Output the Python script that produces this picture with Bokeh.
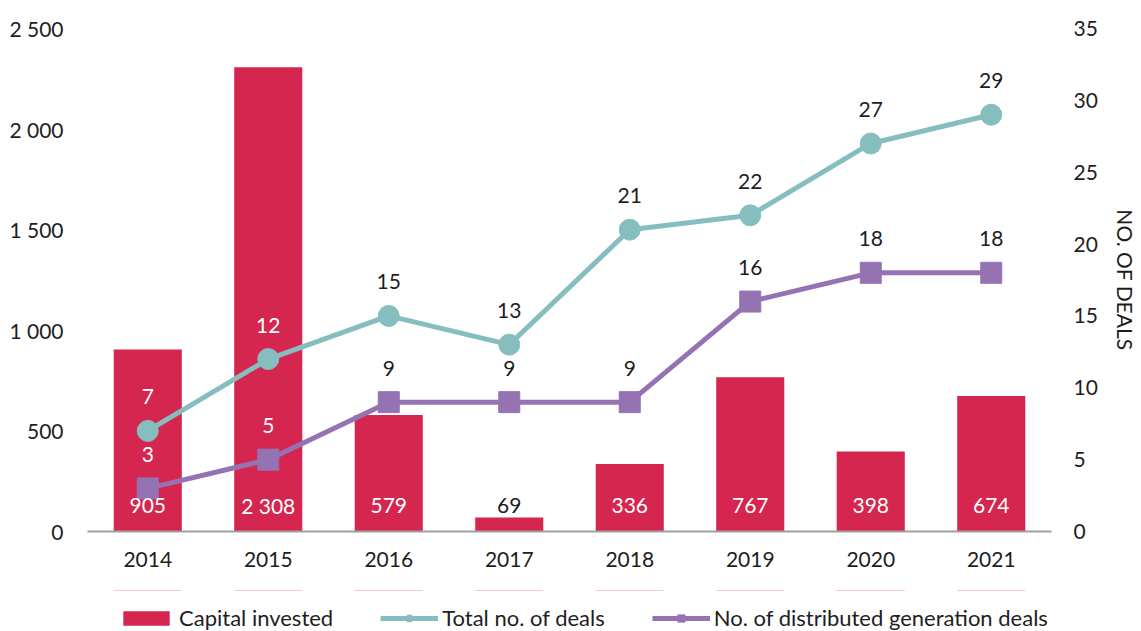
from bokeh.plotting import figure
from bokeh.layouts import column
from bokeh.models import (ColumnDataSource, FactorRange, Range1d, LinearAxis, FixedTicker,
                          LabelSet, Legend, LegendItem)
from bokeh.core.properties import value
from bokeh.embed import file_html
from bokeh.resources import INLINE

# ---- data ----
years = ["2014", "2015", "2016", "2017", "2018", "2019", "2020", "2021"]
capital_invested = [905, 2308, 579, 69, 336, 767, 398, 674]
total_deals = [7, 12, 15, 13, 21, 22, 27, 29]
dg_deals = [3, 5, 9, 9, 9, 16, 18, 18]

left_ticks = [0, 500, 1000, 1500, 2000, 2500]
left_tick_labels = ["0", "500", "1 000", "1 500", "2 000", "2 500"]
right_ticks = [0, 5, 10, 15, 20, 25, 30, 35]
right_tick_labels = ["0", "5", "10", "15", "20", "25", "30", "35"]
right_axis_title = "NO. OF DEALS"
legend_labels = ["Capital invested", "Total no. of deals", "No. of distributed generation deals"]

# ---- styles ----
FONT = "Lato"
FS = "21px"
LEG_FS = "22px"
TXT = "#1e1e1e"
BAR = "#D4264E"
TEAL = "#86BEBF"
PURPLE = "#9573B3"
LEFT_MAX = 2500
RIGHT_MAX = 35
W = 1141


def fmt(v):
    return f"{v:,}".replace(",", " ")


scale = LEFT_MAX / RIGHT_MAX
src = ColumnDataSource(dict(
    years=years,
    capital=capital_invested,
    capital_lbl=[fmt(v) for v in capital_invested],
    capital_col=["white" if v > 200 else TXT for v in capital_invested],
    zero=[0] * len(years),
    total=total_deals,
    total_lbl=[str(v) for v in total_deals],
    total_col=["white" if t * scale < c else TXT for t, c in zip(total_deals, capital_invested)],
    dg=dg_deals,
    dg_lbl=[str(v) for v in dg_deals],
    dg_col=["white" if t * scale < c else TXT for t, c in zip(dg_deals, capital_invested)],
))

p = figure(width=W, height=590, x_range=FactorRange(factors=years),
           y_range=Range1d(0, LEFT_MAX), output_backend="svg", toolbar_location=None,
           min_border_left=87, min_border_right=90, min_border_top=28, min_border_bottom=59)
p.extra_y_ranges = {"deals": Range1d(0, RIGHT_MAX)}
p.outline_line_color = None
p.xgrid.visible = False
p.ygrid.visible = False


def add_series(fig, source, y_name=None, bar_top="capital"):
    kw = {} if y_name is None else {"y_range_name": y_name}
    b = fig.vbar(x="years", top=bar_top, width=0.565, source=source, fill_color=BAR, line_color=None)
    a1 = fig.line(x="years", y="total", source=source, line_color=TEAL, line_width=5, **kw)
    m1 = fig.scatter(x="years", y="total", source=source, marker="circle", size=21,
                     fill_color=TEAL, line_color=TEAL, **kw)
    a2 = fig.line(x="years", y="dg", source=source, line_color=PURPLE, line_width=5, **kw)
    m2 = fig.scatter(x="years", y="dg", source=source, marker="square", size=21,
                     fill_color=PURPLE, line_color=PURPLE, **kw)
    return b, a1, m1, a2, m2


add_series(p, src, "deals")


def style_axis(ax, standoff):
    ax.axis_line_color = None
    ax.major_tick_line_color = None
    ax.minor_tick_line_color = None
    ax.major_tick_out = 0
    ax.major_tick_in = 0
    ax.minor_tick_out = 0
    ax.minor_tick_in = 0
    ax.major_label_standoff = standoff
    ax.major_label_text_font = FONT
    ax.major_label_text_font_size = FS
    ax.major_label_text_color = TXT


# axes
xa = p.xaxis[0]
style_axis(xa, 20)
xa.axis_line_color = "#A0A0A0"
xa.axis_line_width = 2

ya = p.yaxis[0]
style_axis(ya, 24)
ya.ticker = FixedTicker(ticks=left_ticks)
ya.major_label_overrides = {t: l for t, l in zip(left_ticks, left_tick_labels)}

ra = LinearAxis(y_range_name="deals", ticker=FixedTicker(ticks=right_ticks))
style_axis(ra, 22)
ra.major_label_overrides = {t: l for t, l in zip(right_ticks, right_tick_labels)}
ra.axis_label = right_axis_title
ra.axis_label_standoff = 12
ra.axis_label_text_font = FONT
ra.axis_label_text_font_size = FS
ra.axis_label_text_font_style = "normal"
ra.axis_label_text_color = TXT
ra.axis_label_text_line_height = 1.0
p.add_layout(ra, "right")

# data labels
common = dict(x="years", source=src, text_align="center", text_baseline="middle",
              text_font=value(FONT), text_font_size=value(FS))
p.add_layout(LabelSet(y="zero", text="capital_lbl", text_color="capital_col", y_offset=26, **common))
p.add_layout(LabelSet(y="total", text="total_lbl", text_color="total_col", y_offset=34,
                      y_range_name="deals", **common))
p.add_layout(LabelSet(y="dg", text="dg_lbl", text_color="dg_col", y_offset=34,
                      y_range_name="deals", **common))

# legend strip: a small figure whose view range excludes the data, holding only the legend
lg = figure(width=W, height=41, x_range=FactorRange(factors=years), y_range=Range1d(-5000, -4000),
            output_backend="svg", toolbar_location=None, x_axis_type=None, y_axis_type=None,
            min_border_left=87, min_border_right=90, min_border_top=0, min_border_bottom=0)
lg.outline_line_color = None
lg.xgrid.visible = False
lg.ygrid.visible = False
rb, r1, rm1, r2, rm2 = add_series(lg, src, bar_top="zero")

legend = Legend(items=[LegendItem(label=legend_labels[0], renderers=[rb]),
                       LegendItem(label=legend_labels[1], renderers=[r1, rm1]),
                       LegendItem(label=legend_labels[2], renderers=[r2, rm2])],
                orientation="horizontal", location=(30, 0), padding=0, margin=0,
                spacing=47, glyph_width=58, glyph_height=18, label_height=18, label_standoff=4,
                label_text_font=FONT, label_text_font_size=LEG_FS, label_text_color=TXT,
                label_text_line_height=1.0,
                border_line_color=None, background_fill_alpha=0)
lg.add_layout(legend, "center")

open("out.html", "w").write(file_html(column(p, lg, spacing=0), INLINE))
